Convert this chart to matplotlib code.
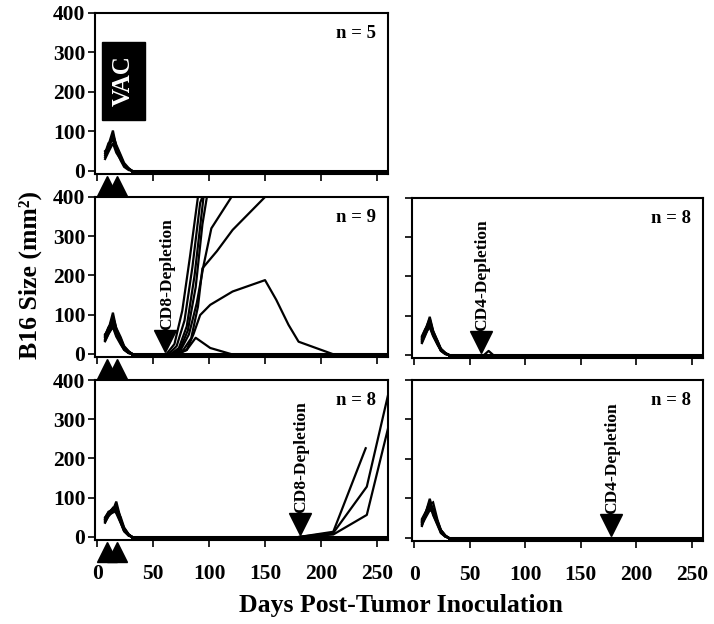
import matplotlib
matplotlib.use("Agg")
import matplotlib.pyplot as plt
from matplotlib.patches import Rectangle

plt.rcParams["font.family"] = ["Liberation Serif", "DejaVu Serif"]
plt.rcParams["font.weight"] = "bold"

# measurement days for the primary tumour (shared by every mouse)
early_days = [7, 10, 14, 17, 21, 24, 28, 31]

# primary tumour sizes (mm^2) per mouse, one row per mouse
vac_early = [
    [40, 65, 102, 60, 32, 14, 4, 0],
    [35, 55, 88, 62, 36, 16, 5, 0],
    [45, 70, 78, 52, 26, 10, 2, 0],
    [30, 48, 70, 46, 28, 14, 6, 0],
    [50, 58, 92, 66, 40, 20, 7, 0],
]
cd8_60_early = [
    [42, 62, 105, 64, 34, 14, 4, 0],
    [36, 56, 90, 60, 36, 16, 5, 0],
    [46, 68, 80, 52, 28, 11, 2, 0],
    [32, 50, 72, 48, 30, 15, 6, 0],
    [50, 60, 95, 66, 42, 20, 7, 0],
    [38, 54, 84, 58, 32, 13, 3, 0],
    [44, 64, 76, 50, 26, 12, 3, 0],
    [34, 52, 68, 44, 24, 10, 2, 0],
    [48, 66, 88, 62, 38, 18, 6, 0],
]
cd4_60_early = [
    [35, 60, 97, 62, 34, 12, 3, 0],
    [40, 55, 88, 58, 30, 14, 4, 0],
    [30, 50, 78, 52, 28, 10, 2, 0],
    [45, 65, 92, 60, 36, 16, 5, 0],
    [38, 58, 70, 48, 26, 12, 3, 0],
    [42, 62, 84, 56, 32, 15, 4, 0],
    [33, 52, 74, 50, 27, 11, 2, 0],
    [48, 66, 80, 54, 34, 14, 5, 0],
]
cd8_180_early = [
    [36, 55, 68, 90, 45, 20, 5, 0],
    [45, 60, 72, 80, 40, 18, 4, 0],
    [40, 58, 65, 75, 50, 24, 7, 0],
    [50, 62, 70, 60, 35, 14, 3, 0],
    [38, 52, 66, 72, 42, 22, 6, 0],
    [44, 56, 62, 68, 38, 16, 4, 0],
    [42, 60, 74, 66, 36, 15, 5, 0],
    [48, 64, 70, 78, 44, 20, 6, 0],
]
cd4_180_early = [
    [30, 60, 99, 70, 40, 18, 5, 0],
    [40, 55, 85, 90, 45, 20, 6, 0],
    [35, 58, 80, 64, 38, 14, 3, 0],
    [45, 62, 92, 60, 34, 16, 4, 0],
    [38, 52, 75, 72, 42, 20, 6, 0],
    [42, 60, 88, 58, 32, 12, 3, 0],
    [33, 50, 70, 66, 36, 15, 4, 0],
    [48, 64, 82, 74, 40, 18, 5, 0],
]

# outgrowth after depletion: (days, sizes) per mouse; mice not listed stay at 0
cd8_60_late = [
    ([62, 69, 76, 83, 90], [0, 25, 110, 250, 400]),
    ([64, 71, 78, 85, 92, 94], [0, 20, 85, 220, 385, 400]),
    ([66, 73, 80, 87, 95], [0, 15, 70, 200, 400]),
    ([67, 74, 81, 88, 94, 98], [0, 12, 60, 170, 330, 400]),
    ([68, 75, 82, 89, 95, 102, 120], [0, 12, 50, 130, 225, 320, 400]),
    ([70, 77, 84, 90, 94, 107, 121, 150], [0, 10, 40, 120, 218, 262, 316, 400]),
    ([72, 80, 86, 92, 101, 121, 150, 160, 171, 180, 210],
     [0, 10, 50, 99, 125, 159, 188, 138, 74, 31, 0]),
    ([72, 80, 88, 101, 119], [0, 10, 41, 15, 0]),
]
cd4_60_late = [
    ([63, 67, 71], [0, 10, 0]),
]
cd8_180_late = [
    ([181, 211, 240], [0, 13, 226]),
    ([181, 211, 241, 260], [0, 10, 128, 362]),
    ([181, 211, 241, 260], [0, 6, 56, 277]),
]
last_day = 260

vac_marks = [9, 17.5]

panels = [
    # (position, early rows, late rows, depletion label, depletion day, n label, left column)
    ([0.1331, 0.7212, 0.4104, 0.2580], vac_early, [], None, None, "n = 5", True),
    ([0.1331, 0.4279, 0.4104, 0.2564], cd8_60_early, cd8_60_late, "CD8-Depletion", 61, "n = 9", True),
    ([0.5770, 0.4263, 0.4076, 0.2564], cd4_60_early, cd4_60_late, "CD4-Depletion", 60, "n = 8", False),
    ([0.1331, 0.1346, 0.4104, 0.2564], cd8_180_early, cd8_180_late, "CD8-Depletion", 181, "n = 8", True),
    ([0.5770, 0.1330, 0.4076, 0.2580], cd4_180_early, [], "CD4-Depletion", 177, "n = 8", False),
]

fig = plt.figure(figsize=(7.14, 6.24), dpi=100)

for idx, (pos, early, late, dep_label, dep_day, n_label, left_col) in enumerate(panels):
    ax = fig.add_axes(pos)
    for rows in early:
        ax.plot(early_days, rows, color="black", lw=1.6, solid_joinstyle="miter")
    # flat zero line for every mouse after the primary tumour regressed
    ax.plot([early_days[-1], last_day], [0, 0], color="black", lw=2.2)
    for days, sizes in late:
        ax.plot(days, sizes, color="black", lw=1.6)

    ax.set_xlim(-2, 260)
    ax.set_ylim(-8, 400)
    ax.set_xticks([0, 50, 100, 150, 200, 250])
    ax.set_yticks([0, 100, 200, 300, 400])
    for sp in ax.spines.values():
        sp.set_linewidth(1.5)
    ax.tick_params(direction="out", length=5, width=1.2, labelsize=15.5)
    ax.tick_params(axis="y", pad=2)
    ax.tick_params(axis="x", pad=12)
    if not left_col:
        ax.set_yticklabels([])
    if idx < 3:
        ax.set_xticklabels([])

    ax.text(0.96, 0.87, n_label, transform=ax.transAxes, ha="right", va="center",
            fontsize=13.5, fontweight="bold")

    if dep_label:
        ax.plot([dep_day], [33], marker="v", ms=16, color="black", clip_on=False)
        ax.text(dep_day + 1.5, 60, dep_label, rotation=90, ha="center", va="bottom",
                fontsize=12.5, fontweight="bold")

    if left_col:
        tr = ax.get_xaxis_transform()
        for d in vac_marks:
            ax.plot([d], [-0.077], marker="^", ms=15, color="black",
                    transform=tr, clip_on=False)

    if idx == 0:
        ax.add_patch(Rectangle((0.023, 0.335), 0.147, 0.485, transform=ax.transAxes,
                               facecolor="black", edgecolor="black"))
        ax.text(0.097, 0.578, "VAC", transform=ax.transAxes, rotation=90,
                ha="center", va="center", color="white", fontsize=18, fontweight="bold")

fig.text(0.042, 0.56, "B16 Size (mm²)", rotation=90, ha="center", va="center",
         fontsize=18.5, fontweight="bold")
fig.text(0.562, 0.03, "Days Post-Tumor Inoculation", ha="center", va="center",
         fontsize=18.5, fontweight="bold")

fig.savefig("out.png", dpi=100)
